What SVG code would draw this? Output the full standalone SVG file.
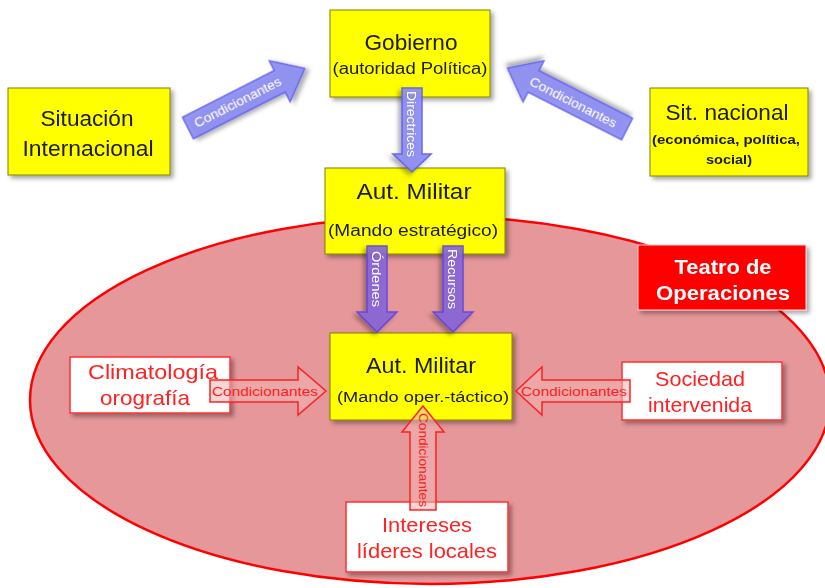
<svg xmlns="http://www.w3.org/2000/svg" width="825" height="588" viewBox="0 0 825 588">
<defs>
<filter id="sh" x="-10%" y="-10%" width="130%" height="130%">
<feDropShadow dx="3" dy="3" stdDeviation="2" flood-color="#000" flood-opacity="0.35"/>
</filter>
<style>
text{font-family:"Liberation Sans",Arial,sans-serif;text-anchor:middle}
.yb{fill:#ffff00;stroke:#808000;stroke-width:1}
.wb{fill:#ffffff;stroke:#ff3030;stroke-width:1.5}
.dk{fill:#1a1a1a}
.rd{fill:#ff2020}
.ba{fill:#8c8cf2;stroke:#5a5af0;stroke-width:1.5;opacity:0.9}
.pa{fill:#8866d8;stroke:#6040e0;stroke-width:1.5;opacity:0.9}
.ra{fill:#f3b4b4;fill-opacity:0.55;stroke:#ff2020;stroke-width:1.5}
.wl{fill:#ffffff;font-size:13px}
.rl{fill:#ff2020;font-size:13px}
</style>
</defs>
<rect width="825" height="588" fill="#ffffff"/>
<g id="teatro">
<ellipse cx="430" cy="400" rx="400" ry="184" fill="#e5979a" stroke="#ff0000" stroke-width="2.5"/>
</g>
<g id="gobierno" filter="url(#sh)">
<rect class="yb" x="330" y="10" width="160" height="87"/>
<text class="dk" x="411" y="50" font-size="22" textLength="93" lengthAdjust="spacingAndGlyphs">Gobierno</text>
<text class="dk" x="410" y="74" font-size="16" textLength="155" lengthAdjust="spacingAndGlyphs">(autoridad Política)</text>
</g>
<g id="sit-internacional" filter="url(#sh)">
<rect class="yb" x="8" y="88" width="162" height="87"/>
<text class="dk" x="87" y="126" font-size="22" textLength="93" lengthAdjust="spacingAndGlyphs">Situación</text>
<text class="dk" x="88" y="156" font-size="22" textLength="131" lengthAdjust="spacingAndGlyphs">Internacional</text>
</g>
<g id="sit-nacional" filter="url(#sh)">
<rect class="yb" x="650" y="88" width="158" height="88"/>
<text class="dk" x="727" y="120" font-size="22" textLength="123" lengthAdjust="spacingAndGlyphs">Sit. nacional</text>
<text class="dk" x="726" y="144" font-size="13.5" font-weight="bold" textLength="148" lengthAdjust="spacingAndGlyphs">(económica, política,</text>
<text class="dk" x="729" y="164" font-size="13.5" font-weight="bold" textLength="46" lengthAdjust="spacingAndGlyphs">social)</text>
</g>
<g id="aut-estrategico" filter="url(#sh)">
<rect class="yb" x="325" y="168" width="180" height="86"/>
<text class="dk" x="414" y="199" font-size="22" textLength="115" lengthAdjust="spacingAndGlyphs">Aut. Militar</text>
<text class="dk" x="413" y="236" font-size="16" textLength="170" lengthAdjust="spacingAndGlyphs">(Mando estratégico)</text>
</g>
<g id="teatro-label" filter="url(#sh)">
<rect x="638" y="245" width="168" height="65" fill="#ff0000" stroke="#ffd0d0" stroke-width="1"/>
<text x="723" y="274" font-size="20" font-weight="bold" fill="#ffffff" textLength="97" lengthAdjust="spacingAndGlyphs">Teatro de</text>
<text x="723" y="300" font-size="20" font-weight="bold" fill="#ffffff" textLength="134" lengthAdjust="spacingAndGlyphs">Operaciones</text>
</g>
<g id="aut-operativo" filter="url(#sh)">
<rect class="yb" x="330" y="333" width="182" height="87"/>
<text class="dk" x="421" y="373" font-size="22" textLength="110" lengthAdjust="spacingAndGlyphs">Aut. Militar</text>
<text class="dk" x="423" y="402" font-size="15.5" textLength="172" lengthAdjust="spacingAndGlyphs">(Mando oper.-táctico)</text>
</g>
<g id="climatologia" filter="url(#sh)">
<rect class="wb" x="70" y="357" width="160" height="56"/>
<text class="rd" x="153" y="379" font-size="21" textLength="130" lengthAdjust="spacingAndGlyphs">Climatología</text>
<text class="rd" x="145" y="405" font-size="21" textLength="90" lengthAdjust="spacingAndGlyphs">orografía</text>
</g>
<g id="sociedad" filter="url(#sh)">
<rect class="wb" x="622" y="362" width="160" height="58"/>
<text class="rd" x="700" y="386" font-size="21" textLength="90" lengthAdjust="spacingAndGlyphs">Sociedad</text>
<text class="rd" x="700" y="412" font-size="21" textLength="104" lengthAdjust="spacingAndGlyphs">intervenida</text>
</g>
<g id="intereses" filter="url(#sh)">
<rect class="wb" x="346" y="502" width="162" height="70"/>
<text class="rd" x="427" y="532" font-size="21" textLength="90" lengthAdjust="spacingAndGlyphs">Intereses</text>
<text class="rd" x="427" y="558" font-size="21" textLength="140" lengthAdjust="spacingAndGlyphs">líderes locales</text>
</g>
<g id="connectors">
<g transform="translate(188,128) rotate(-27)" filter="url(#sh)">
<path class="ba" d="M0,-12 H103 V-23 L131,0 L103,23 V12 H0 Z"/>
<text class="wl" x="56" y="4.5" textLength="96" lengthAdjust="spacingAndGlyphs">Condicionantes</text>
</g>
<g transform="translate(627,129) rotate(-153)" filter="url(#sh)">
<path class="ba" d="M0,-12 H105 V-23 L134,0 L105,23 V12 H0 Z"/>
<text class="wl" x="-60" y="4.5" transform="rotate(180)" textLength="96" lengthAdjust="spacingAndGlyphs">Condicionantes</text>
</g>
<g transform="translate(412,88) rotate(90)" filter="url(#sh)">
<path class="ba" d="M0,-10 H66 V-19 L84,0 L66,19 V10 H0 Z"/>
<text class="wl" x="36" y="4.5" textLength="66" lengthAdjust="spacingAndGlyphs">Directrices</text>
</g>
<g transform="translate(377,246) rotate(90)" filter="url(#sh)">
<path class="pa" d="M0,-10 H66 V-20 L86,0 L66,20 V10 H0 Z"/>
<text class="wl" x="33" y="4.5" textLength="56" lengthAdjust="spacingAndGlyphs">Órdenes</text>
</g>
<g transform="translate(453,246) rotate(90)" filter="url(#sh)">
<path class="pa" d="M0,-10 H66 V-20 L86,0 L66,20 V10 H0 Z"/>
<text class="wl" x="33" y="4.5" textLength="60" lengthAdjust="spacingAndGlyphs">Recursos</text>
</g>
<g transform="translate(210,391)">
<path class="ra" d="M0,-11 H88 V-24 L116,0 L88,24 V11 H0 Z"/>
<text class="rl" x="55" y="4.5" textLength="106" lengthAdjust="spacingAndGlyphs">Condicionantes</text>
</g>
<g transform="translate(630,391) rotate(180)">
<path class="ra" d="M0,-11 H88 V-24 L114,0 L88,24 V11 H0 Z"/>
<text class="rl" x="-56" y="4.5" transform="rotate(180)" textLength="106" lengthAdjust="spacingAndGlyphs">Condicionantes</text>
</g>
<g transform="translate(423,510) rotate(-90)">
<path class="ra" d="M0,-13 H78 V-21 L104,0 L78,21 V13 H0 Z"/>
<text class="rl" x="-50" y="4.5" transform="rotate(180)" textLength="94" lengthAdjust="spacingAndGlyphs">Condicionantes</text>
</g>
</g>
</svg>
